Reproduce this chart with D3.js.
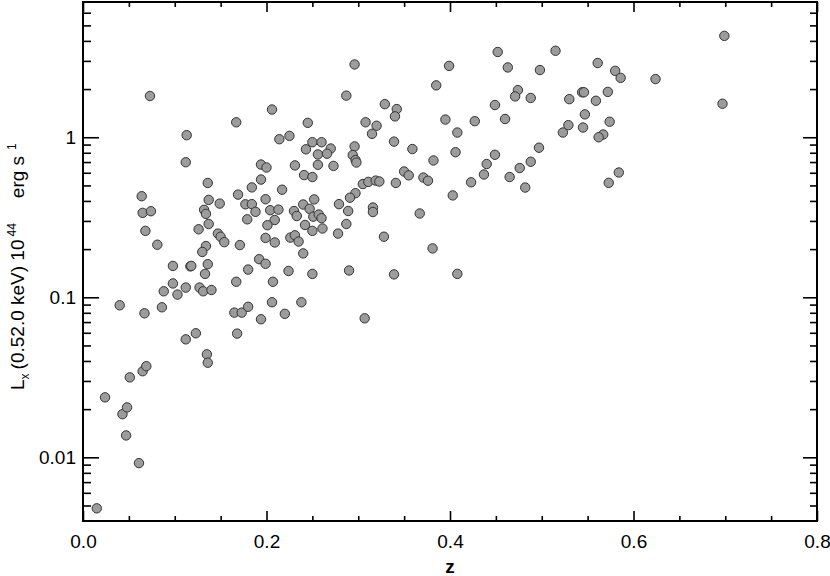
<!DOCTYPE html>
<html>
<head>
<meta charset="utf-8">
<script src="https://cdn.jsdelivr.net/npm/d3@7"></script>
<style>
  body { margin: 0; background: #fff; }
  svg text { font-family: "Liberation Sans", Arial, sans-serif; fill: #000; }
</style>
</head>
<body>
<div id="chart"></div>
<script>
// redshift of each cluster
var zValues = [
  0.015, 0.024, 0.043, 0.048, 0.047, 0.061, 0.051, 0.065, 0.069, 0.040,
  0.067, 0.086, 0.088, 0.098, 0.103, 0.112, 0.112, 0.123, 0.127, 0.131,
  0.140, 0.135, 0.136, 0.165, 0.173, 0.180, 0.168, 0.194, 0.206, 0.220,
  0.238, 0.167, 0.207, 0.073, 0.113, 0.112, 0.064, 0.065, 0.074, 0.068,
  0.081, 0.136, 0.137, 0.132, 0.134, 0.137, 0.126, 0.134, 0.130, 0.149,
  0.147, 0.150, 0.154, 0.171, 0.167, 0.169, 0.177, 0.184, 0.194, 0.184,
  0.188, 0.179, 0.194, 0.200, 0.199, 0.204, 0.213, 0.209, 0.201, 0.199,
  0.209, 0.217, 0.206, 0.214, 0.225, 0.231, 0.226, 0.231, 0.235, 0.230,
  0.233, 0.098, 0.117, 0.118, 0.136, 0.133, 0.180, 0.192, 0.199, 0.224,
  0.240, 0.296, 0.399, 0.452, 0.515, 0.463, 0.498, 0.385, 0.287, 0.329,
  0.342, 0.340, 0.449, 0.474, 0.471, 0.488, 0.530, 0.395, 0.427, 0.460,
  0.408, 0.529, 0.523, 0.308, 0.320, 0.315, 0.245, 0.339, 0.359, 0.406,
  0.497, 0.250, 0.260, 0.243, 0.270, 0.256, 0.266, 0.256, 0.273, 0.296,
  0.294, 0.297, 0.298, 0.382, 0.449, 0.440, 0.437, 0.423, 0.465, 0.476,
  0.488, 0.482, 0.241, 0.250, 0.305, 0.311, 0.319, 0.323, 0.341, 0.350,
  0.355, 0.371, 0.376, 0.403, 0.297, 0.291, 0.279, 0.252, 0.240, 0.247,
  0.251, 0.257, 0.260, 0.316, 0.316, 0.289, 0.367, 0.242, 0.250, 0.261,
  0.287, 0.278, 0.328, 0.381, 0.250, 0.290, 0.339, 0.408, 0.307, 0.699,
  0.561, 0.580, 0.586, 0.624, 0.697, 0.544, 0.546, 0.572, 0.559, 0.547,
  0.574, 0.545, 0.567, 0.562, 0.584, 0.573
];
// soft-band luminosity, 10^44 erg/s
var lxValues = [
  0.0048, 0.0237, 0.0186, 0.0205, 0.0137, 0.0092, 0.0316, 0.0345, 0.0371, 0.0891,
  0.0794, 0.0866, 0.109, 0.122, 0.104, 0.115, 0.0546, 0.0596, 0.115, 0.109,
  0.111, 0.0440, 0.0390, 0.0802, 0.0802, 0.0872, 0.0593, 0.0729, 0.0931, 0.0788,
  0.0931, 0.125, 0.125, 1.81, 1.03, 0.698, 0.428, 0.337, 0.345, 0.260,
  0.213, 0.518, 0.406, 0.352, 0.332, 0.287, 0.266, 0.209, 0.192, 0.385,
  0.250, 0.239, 0.221, 0.212, 1.24, 0.438, 0.381, 0.486, 0.544, 0.382,
  0.342, 0.307, 0.675, 0.647, 0.410, 0.350, 0.353, 0.304, 0.282, 0.235,
  0.220, 0.470, 1.49, 0.972, 1.02, 0.667, 0.236, 0.244, 0.223, 0.346,
  0.322, 0.157, 0.156, 0.157, 0.161, 0.140, 0.149, 0.173, 0.162, 0.146,
  0.188, 2.85, 2.79, 3.41, 3.47, 2.73, 2.63, 2.11, 1.82, 1.61,
  1.50, 1.35, 1.59, 1.97, 1.80, 1.76, 1.73, 1.29, 1.26, 1.30,
  1.07, 1.19, 1.07, 1.24, 1.18, 1.05, 1.23, 0.939, 0.844, 0.806,
  0.860, 0.931, 0.931, 0.841, 0.850, 0.781, 0.789, 0.673, 0.662, 0.876,
  0.774, 0.720, 0.695, 0.716, 0.777, 0.680, 0.585, 0.523, 0.564, 0.642,
  0.703, 0.485, 0.580, 0.564, 0.510, 0.526, 0.536, 0.529, 0.518, 0.611,
  0.578, 0.560, 0.535, 0.433, 0.447, 0.419, 0.382, 0.409, 0.380, 0.357,
  0.319, 0.329, 0.312, 0.364, 0.341, 0.346, 0.334, 0.283, 0.260, 0.269,
  0.287, 0.250, 0.239, 0.202, 0.140, 0.147, 0.139, 0.140, 0.0739, 4.30,
  2.91, 2.60, 2.35, 2.31, 1.62, 1.91, 1.91, 1.92, 1.69, 1.39,
  1.25, 1.15, 1.04, 1.00, 0.602, 0.519
];

var xMajorTicks = [0, 0.2, 0.4, 0.6, 0.8];
var xMinorTicks = [0.05, 0.1, 0.15, 0.25, 0.3, 0.35, 0.45, 0.5, 0.55, 0.65, 0.7, 0.75];
var yMajorTicks = [0.01, 0.1, 1];
var yMinorTicks = [0.005, 0.006, 0.007, 0.008, 0.009,
                   0.02, 0.03, 0.04, 0.05, 0.06, 0.07, 0.08, 0.09,
                   0.2, 0.3, 0.4, 0.5, 0.6, 0.7, 0.8, 0.9,
                   2, 3, 4, 5, 6];

var width = 830, height = 576;
var plotLeft = 83, plotRight = 817, plotTop = 2, plotBottom = 521;

var svg = d3.select("#chart").append("svg")
    .attr("width", width)
    .attr("height", height);

var x = d3.scaleLinear().domain([0, 0.8]).range([plotLeft, plotRight]);
var y = d3.scaleLog().domain([0.004, 7]).range([plotBottom, plotTop]);

var points = zValues.map(function (z, i) { return { z: z, lx: lxValues[i] }; });

// markers
svg.append("g").selectAll("circle")
    .data(points)
    .enter().append("circle")
    .attr("cx", function (d) { return x(d.z); })
    .attr("cy", function (d) { return y(d.lx); })
    .attr("r", 4.7)
    .style("fill", "#9c9c9c")
    .style("stroke", "#333")
    .style("stroke-width", 1);

function styleAxis(g) {
    g.select(".domain").remove();
    g.selectAll(".tick line").attr("stroke", "#000").attr("stroke-width", 1.6);
}

// bottom axis with labels
svg.append("g")
    .attr("transform", "translate(0," + plotBottom + ")")
    .call(d3.axisBottom(x).tickValues(xMajorTicks).tickSizeInner(-10).tickSizeOuter(0)
        .tickPadding(14).tickFormat(d3.format(".1f")))
    .call(styleAxis)
    .selectAll("text").style("font-size", "19px");
svg.append("g")
    .attr("transform", "translate(0," + plotBottom + ")")
    .call(d3.axisBottom(x).tickValues(xMinorTicks).tickSizeInner(-5).tickSizeOuter(0).tickFormat(""))
    .call(styleAxis);
// top axis, ticks only
svg.append("g")
    .attr("transform", "translate(0," + plotTop + ")")
    .call(d3.axisTop(x).tickValues(xMajorTicks).tickSizeInner(-10).tickSizeOuter(0).tickFormat(""))
    .call(styleAxis);
svg.append("g")
    .attr("transform", "translate(0," + plotTop + ")")
    .call(d3.axisTop(x).tickValues(xMinorTicks).tickSizeInner(-5).tickSizeOuter(0).tickFormat(""))
    .call(styleAxis);

// left axis with labels
var yFmt = function (d) { return d >= 1 ? "1" : String(d); };
svg.append("g")
    .attr("transform", "translate(" + plotLeft + ",0)")
    .call(d3.axisLeft(y).tickValues(yMajorTicks).tickSizeInner(-16).tickSizeOuter(0)
        .tickPadding(7).tickFormat(yFmt))
    .call(styleAxis)
    .selectAll("text").style("font-size", "19px");
svg.append("g")
    .attr("transform", "translate(" + plotLeft + ",0)")
    .call(d3.axisLeft(y).tickValues(yMinorTicks).tickSizeInner(-8).tickSizeOuter(0).tickFormat(""))
    .call(styleAxis);
// right axis, ticks only
svg.append("g")
    .attr("transform", "translate(" + plotRight + ",0)")
    .call(d3.axisRight(y).tickValues(yMajorTicks).tickSizeInner(-14).tickSizeOuter(0).tickFormat(""))
    .call(styleAxis);
svg.append("g")
    .attr("transform", "translate(" + plotRight + ",0)")
    .call(d3.axisRight(y).tickValues(yMinorTicks).tickSizeInner(-7).tickSizeOuter(0).tickFormat(""))
    .call(styleAxis);

// frame
svg.append("rect")
    .attr("x", plotLeft).attr("y", plotTop)
    .attr("width", plotRight - plotLeft).attr("height", plotBottom - plotTop)
    .style("fill", "none").style("stroke", "#000").style("stroke-width", 2);

// axis titles
svg.append("text")
    .attr("x", x(0.4)).attr("y", 573)
    .attr("text-anchor", "middle")
    .style("font-size", "19px").style("font-weight", "bold")
    .text("z");

var ylab = svg.append("text")
    .attr("transform", "translate(24,390) rotate(-90)")
    .attr("text-anchor", "start")
    .style("font-size", "19px");
ylab.append("tspan").text("L");
ylab.append("tspan").attr("dy", 5).style("font-size", "12px").text("x");
ylab.append("tspan").attr("dy", -5).attr("dx", 4).text("(0.52.0 keV) 10");
ylab.append("tspan").attr("dy", -8).attr("dx", 3).style("font-size", "12px").text("44");
ylab.append("tspan").attr("dy", 8).attr("dx", 25).text("erg s");
ylab.append("tspan").attr("dy", -8).attr("dx", 6).style("font-size", "12px").text("1");
</script>
</body>
</html>
